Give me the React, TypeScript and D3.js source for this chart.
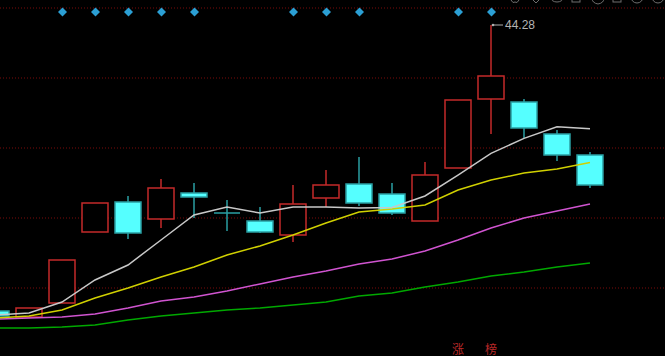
import React, { useEffect } from "react";
import * as d3 from "d3";

const W = 665;
const H = 356;

// OHLC per candle (index order)
const opens = [29.98, 29.68, 30.38, 33.93, 35.43, 34.58, 35.88, 34.88, 34.48, 33.78, 35.63, 36.33, 35.83, 34.48, 37.13, 40.58, 40.43, 38.83, 37.78];
const highs = [29.98, 30.13, 32.53, 35.38, 35.73, 36.58, 36.38, 35.53, 35.18, 36.28, 37.03, 37.68, 36.38, 37.43, 40.53, 44.28, 40.58, 39.03, 37.93];
const lows = [29.73, 29.68, 30.38, 33.93, 33.58, 34.13, 34.63, 33.98, 33.88, 33.43, 35.18, 35.23, 34.78, 34.48, 37.13, 38.83, 38.63, 37.48, 36.13];
const closes = [29.73, 30.13, 32.53, 35.38, 33.88, 36.13, 35.68, 34.88, 33.93, 35.33, 36.28, 35.38, 34.88, 36.78, 40.53, 41.73, 39.13, 37.78, 36.28];

// moving averages
const ma5 = [29.78, 29.88, 30.43, 31.53, 32.28, 33.53, 34.78, 35.18, 34.88, 35.18, 35.18, 35.13, 35.16, 35.73, 36.77, 37.86, 38.61, 39.19, 39.09];
const ma10 = [29.63, 29.73, 30.03, 30.63, 31.13, 31.68, 32.18, 32.78, 33.23, 33.78, 34.38, 34.93, 35.08, 35.28, 36.03, 36.53, 36.88, 37.08, 37.41];
const ma20 = [29.58, 29.63, 29.68, 29.83, 30.13, 30.48, 30.68, 30.98, 31.33, 31.68, 31.98, 32.33, 32.58, 32.98, 33.53, 34.13, 34.63, 34.98, 35.33];
const ma60 = [29.13, 29.13, 29.18, 29.28, 29.53, 29.73, 29.88, 30.03, 30.13, 30.28, 30.43, 30.73, 30.88, 31.18, 31.43, 31.73, 31.93, 32.18, 32.38];

const gridPrices = [45.13, 41.63, 38.13, 34.63, 31.13];
const markerIdx = [2, 3, 4, 5, 6, 9, 10, 11, 14, 15];
const bottomLabels = [
  { idx: 14, text: "涨" },
  { idx: 15, text: "榜" },
];
const maxLabel = "44.28";

const RED = "#c42a2a";
const CYAN_FILL = "#55ffff";
const CYAN_EDGE = "#2a9fa3";

export default function App() {
  useEffect(() => {
    document.body.style.margin = "0";
    document.body.style.background = "#000";
  }, []);

  const x = d3.scaleLinear().domain([0, 18]).range([-4, 590]);
  const y = d3.scaleLinear().domain([31.13, 45.13]).range([288, 8]);
  const bw = 26;

  const line = d3
    .line<number>()
    .x((_, i) => x(i))
    .y((d) => y(d))
    .curve(d3.curveLinear);

  const maxI = highs.indexOf(d3.max(highs) as number);

  return (
    <svg width={W} height={H} style={{ display: "block", background: "#000" }}>
      <rect x={0} y={0} width={W} height={H} fill="#000" />
      {/* top toolbar icons (partially cut) */}
      <g fill="none" stroke="#6e6e6e" strokeWidth={1}>
        <path d="M511,0 Q513,4 515,2 Q517,4 519,0" />
        <path d="M533,0 L536,3 L539,0" />
        <ellipse cx={557} cy={-2} rx={6} ry={4} />
        <rect x={572} y={-6} width={8} height={8} />
        <path d="M592,-2 Q592,3 598,4 Q604,3 604,-2" />
        <rect x={613} y={-6} width={8} height={8} />
        <circle cx={637} cy={-3} r={6} />
        <circle cx={658} cy={-3} r={6} />
      </g>
      {/* grid */}
      {gridPrices.map((p, i) => (
        <line key={i} x1={0} x2={W} y1={y(p)} y2={y(p)} stroke="#7a0a0a" strokeWidth={1} strokeDasharray="1 2" />
      ))}
      {/* markers */}
      {markerIdx.map((i) => (
        <path
          key={i}
          d={`M${x(i) + 0.5},${7.5} L${x(i) + 5},${12} L${x(i) + 0.5},${16.5} L${x(i) - 4},${12} Z`}
          fill="#2b9fd4"
        />
      ))}
      {/* candles */}
      {opens.map((o, i) => {
        const c = closes[i];
        const cx = x(i);
        const up = c > o;
        const doji = c === o;
        const top = y(Math.max(o, c));
        const bot = y(Math.min(o, c));
        const col = up ? RED : CYAN_EDGE;
        return (
          <g key={i}>
            {highs[i] > Math.max(o, c) && (
              <line x1={cx} x2={cx} y1={y(highs[i])} y2={top} stroke={col} strokeWidth={1.5} />
            )}
            {lows[i] < Math.min(o, c) && (
              <line x1={cx} x2={cx} y1={bot} y2={y(lows[i])} stroke={col} strokeWidth={1.5} />
            )}
            {doji ? (
              <line x1={cx - bw / 2} x2={cx + bw / 2} y1={top} y2={top} stroke={CYAN_EDGE} strokeWidth={1.5} />
            ) : (
              <rect
                x={cx - bw / 2}
                y={top}
                width={bw}
                height={Math.max(bot - top, 1)}
                fill={up ? "#000" : CYAN_FILL}
                stroke={up ? RED : CYAN_EDGE}
                strokeWidth={1.5}
              />
            )}
          </g>
        );
      })}
      {/* moving averages */}
      <path d={line(ma60) || ""} fill="none" stroke="#00a800" strokeWidth={1.5} />
      <path d={line(ma20) || ""} fill="none" stroke="#d054d0" strokeWidth={1.5} />
      <path d={line(ma10) || ""} fill="none" stroke="#d0d000" strokeWidth={1.5} />
      <path d={line(ma5) || ""} fill="none" stroke="#c8c8c8" strokeWidth={1.5} />
      {/* max label */}
      <g>
        <circle cx={x(maxI) + 2} cy={y(highs[maxI])} r={1.3} fill="#b0b0b0" />
        <line x1={x(maxI) + 2} x2={x(maxI) + 12} y1={y(highs[maxI])} y2={y(highs[maxI])} stroke="#b0b0b0" strokeWidth={1} />
        <text
          x={x(maxI) + 14}
          y={y(highs[maxI]) + 4}
          fill="#b4b4b4"
          fontSize={12}
          fontFamily="Liberation Sans, Arial, sans-serif"
        >
          {maxLabel}
        </text>
      </g>
      {/* bottom labels */}
      {bottomLabels.map((b) => (
        <text
          key={b.idx}
          x={x(b.idx)}
          y={354}
          textAnchor="middle"
          fill="#b82828"
          fontSize={12}
          fontFamily="Noto Sans CJK SC"
        >
          {b.text}
        </text>
      ))}
    </svg>
  );
}
